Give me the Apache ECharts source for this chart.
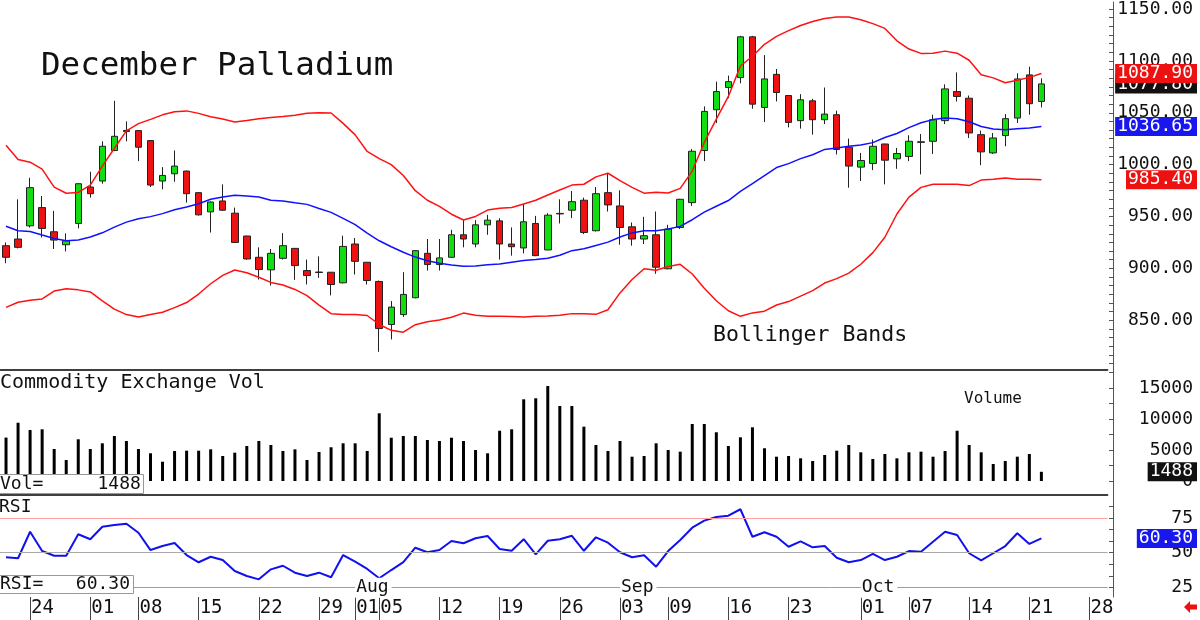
<!DOCTYPE html>
<html>
<head>
<meta charset="utf-8">
<title>December Palladium</title>
<script src="https://cdn.jsdelivr.net/npm/echarts@6/dist/echarts.min.js"></script>
<style>
  html, body { margin: 0; padding: 0; background: #fff; }
  #chart { width: 1200px; height: 620px; }
</style>
</head>
<body>
<div id="chart"></div>
<script>
// trading days (2019), the last five are empty room on the right
var dates = ['06-20','06-21','06-24','06-25','06-26','06-27','06-28',
    '07-01','07-02','07-03','07-05','07-08','07-09','07-10','07-11','07-12','07-15','07-16','07-17','07-18','07-19',
    '07-22','07-23','07-24','07-25','07-26','07-29','07-30','07-31',
    '08-01','08-02','08-05','08-06','08-07','08-08','08-09','08-12','08-13','08-14','08-15','08-16',
    '08-19','08-20','08-21','08-22','08-23','08-26','08-27','08-28','08-29','08-30',
    '09-03','09-04','09-05','09-06','09-09','09-10','09-11','09-12','09-13','09-16','09-17','09-18','09-19','09-20',
    '09-23','09-24','09-25','09-26','09-27','09-30',
    '10-01','10-02','10-03','10-04','10-07','10-08','10-09','10-10','10-11','10-14','10-15','10-16','10-17','10-18',
    '10-21','10-22','10-23','10-24','10-25','10-28','10-29']

var open = [921.9, 928.3, 941.0, 958.6, 935.3, 922.8, 943.3,
    978.4, 984.2, 1013.6, 1033.0, 1032.8, 1023.2, 984.2, 991.2, 993.8, 973.0, 954.5, 965.0, 953.2, 931.2,
    910.7, 898.6, 909.7, 919.3, 897.9, 896.0, 896.3, 886.1,
    923.5, 905.9, 887.4, 845.9, 855.5, 871.7, 914.5, 903.7, 910.7, 932.4, 923.5, 942.0,
    945.8, 923.5, 919.7, 943.3, 917.8, 952.5, 956.1, 965.7, 936.3, 973.0,
    960.2, 940.1, 928.3, 932.4, 899.6, 939.4, 963.4, 1013.6, 1052.9, 1074.3, 1083.9, 1123.2, 1055.1, 1087.0,
    1066.6, 1042.4, 1061.5, 1043.3, 1048.1, 1016.8,
    997.6, 1001.1, 1019.9, 1005.6, 1007.9, 1022.0, 1022.5, 1042.4, 1070.4, 1064.0, 1028.9, 1011.3, 1028.0, 1044.9,
    1086.5, 1060.9]
var close = [910.7, 920.3, 977.8, 938.5, 927.3, 926.7, 981.6,
    972.0, 1017.7, 1027.3, 1032.0, 1016.8, 980.3, 989.6, 998.6, 972.0, 951.6, 964.0, 956.1, 925.0, 909.1,
    898.9, 914.5, 921.9, 902.7, 893.1, 896.5, 884.5, 921.2,
    906.8, 888.3, 842.0, 862.7, 874.9, 917.1, 903.7, 910.1, 932.4, 928.3, 942.0, 946.5,
    923.5, 920.9, 944.9, 912.3, 951.3, 953.0, 964.3, 934.6, 972.0, 961.2,
    939.4, 928.3, 931.5, 901.1, 937.9, 966.6, 1012.9, 1051.3, 1070.4, 1080.0, 1123.2, 1058.3, 1082.6, 1069.5,
    1040.7, 1062.5, 1043.3, 1048.7, 1014.6, 998.6,
    1004.0, 1017.7, 1004.3, 1010.7, 1022.5, 1021.5, 1043.3, 1073.0, 1065.7, 1030.5, 1012.3, 1025.7, 1044.3, 1082.6,
    1058.7, 1077.8]
var low = [905.0, 919.3, 939.4, 929.8, 918.7, 916.4, 938.5,
    968.2, 981.6, 1013.0, 1022.5, 1003.4, 978.4, 976.2, 983.5, 963.4, 951.0, 934.6, 955.4, 924.5, 908.2,
    889.3, 883.5, 908.5, 889.0, 884.5, 890.9, 874.0, 885.5,
    894.1, 884.5, 819.6, 831.5, 853.2, 871.2, 897.9, 897.9, 910.2, 920.3, 920.3, 932.4,
    908.5, 912.3, 914.5, 911.8, 917.5, 943.3, 948.4, 933.1, 935.6, 954.8,
    922.8, 921.9, 923.5, 894.8, 899.1, 937.9, 960.2, 1003.4, 1040.1, 1064.0, 1078.4, 1053.9, 1041.0, 1060.9,
    1035.9, 1034.7, 1028.9, 1039.1, 1009.8, 977.8,
    984.2, 994.7, 981.0, 996.0, 1003.4, 990.6, 1010.3, 1039.1, 1060.9, 1025.7, 999.5, 1010.3, 1017.7, 1040.1,
    1048.1, 1055.1]
var high = [925.0, 966.6, 987.3, 969.8, 955.4, 933.7, 982.0,
    993.1, 1022.5, 1061.5, 1041.7, 1033.3, 1023.5, 997.6, 1013.6, 994.2, 973.5, 964.5, 981.0, 958.6, 931.5,
    920.3, 918.7, 934.0, 919.5, 908.5, 911.6, 896.5, 931.5,
    929.3, 906.2, 888.3, 868.5, 896.3, 917.5, 928.3, 928.3, 937.2, 946.5, 946.5, 951.6,
    948.4, 939.5, 962.4, 950.6, 953.2, 966.6, 974.6, 968.2, 978.4, 992.1,
    975.3, 944.2, 949.7, 954.8, 942.0, 967.0, 1015.1, 1056.1, 1080.0, 1085.8, 1124.1, 1124.1, 1105.6, 1092.2,
    1067.0, 1067.9, 1063.4, 1074.3, 1052.0, 1025.1,
    1011.3, 1024.2, 1020.2, 1016.1, 1028.3, 1029.5, 1048.1, 1077.4, 1088.9, 1066.6, 1032.8, 1030.5, 1048.7, 1088.0,
    1094.4, 1083.2]

var upperBand = [1018.7, 1005.0, 1002.4, 995.7, 978.4, 972.4, 973.2, 980.3, 998.6, 1015.8,
    1032.6, 1039.5, 1043.6, 1048.0, 1051.0, 1051.8, 1049.4, 1046.2, 1043.9, 1041.1,
    1042.6, 1044.3, 1045.5, 1046.4, 1047.7, 1049.6, 1050.0, 1049.8, 1039.8, 1028.7,
    1012.7, 1005.8, 1000.0, 989.5, 974.9, 965.7, 959.8, 952.2, 946.6, 950.1,
    956.2, 958.0, 958.7, 962.1, 965.7, 970.7, 975.6, 980.3, 981.1, 988.2,
    991.7, 984.5, 978.1, 972.5, 973.5, 972.7, 977.1, 993.8, 1021.4, 1043.9,
    1065.7, 1095.1, 1104.5, 1116.0, 1123.6, 1129.1, 1134.1, 1138.0, 1140.9, 1142.3,
    1142.3, 1139.6, 1135.9, 1131.3, 1119.3, 1111.4, 1107.2, 1107.3, 1109.4, 1107.4,
    1100.6, 1086.7, 1083.6, 1078.9, 1081.3, 1084.1, 1087.90]
var midBand = [940.6, 936.3, 935.5, 932.1, 928.8, 926.7, 927.4, 930.3, 934.3, 939.8,
    944.6, 947.8, 949.9, 952.8, 956.6, 959.2, 962.3, 966.7, 968.9, 970.4,
    969.7, 968.8, 965.7, 965.0, 963.2, 961.7, 957.8, 954.0, 948.2, 942.2,
    933.9, 926.6, 920.9, 915.6, 910.9, 907.4, 904.9, 903.3, 902.0, 902.4,
    903.5, 904.3, 906.0, 907.5, 908.5, 909.8, 912.6, 917.1, 918.9, 922.1,
    925.3, 930.2, 934.2, 936.3, 936.3, 938.0, 940.5, 946.9, 954.3, 959.9,
    965.4, 974.3, 981.6, 989.5, 997.2, 1001.0, 1005.8, 1009.5, 1014.7, 1016.1,
    1017.7, 1018.9, 1021.2, 1026.1, 1030.0, 1035.7, 1040.4, 1043.4, 1044.9, 1044.2,
    1041.4, 1036.8, 1034.3, 1033.7, 1034.7, 1035.4, 1036.65]
var lowerBand = [862.4, 867.4, 869.2, 870.6, 878.2, 880.4, 879.3, 877.3, 868.7, 860.8,
    855.5, 853.2, 855.6, 857.8, 862.2, 867.1, 875.3, 885.2, 893.3, 898.5,
    895.8, 891.4, 886.5, 884.0, 879.7, 873.7, 864.6, 856.3, 855.5, 855.5,
    854.6, 845.9, 840.3, 838.5, 845.7, 848.5, 850.2, 852.9, 856.9, 854.8,
    853.8, 853.8, 853.7, 853.2, 853.8, 854.2, 854.8, 856.4, 856.4, 855.7,
    860.1, 876.4, 889.3, 899.6, 898.2, 901.8, 903.9, 894.6, 880.8, 868.8,
    859.2, 853.8, 857.1, 858.8, 864.7, 868.0, 873.3, 878.6, 885.9, 890.1,
    895.4, 904.0, 915.2, 930.0, 952.4, 968.7, 978.1, 981.0, 981.0, 981.0,
    979.8, 985.1, 985.8, 987.1, 985.8, 985.8, 985.40]

var volume = [7000, 9400, 8230, 8340, 5160, 3390, 6730,
    5160, 6080, 7260, 6450, 5160, 4470, 3110, 4840, 4890, 4890, 5110, 4030, 4570, 5650,
    6450, 5810, 4840, 5110, 3390, 4680, 5440, 6080,
    6080, 4840, 10920, 6980, 7260, 7260, 6610, 6450, 6980, 6450, 5000, 4470,
    8110, 8340, 13180, 13340, 15320, 12100, 12100, 8760, 5810, 4840,
    6450, 3920, 4030, 6080, 5000, 4730, 9190, 9190, 7860, 5650, 7050, 8660, 5280, 3920,
    4030, 3660, 3230, 4190, 4890, 5810,
    4630, 3550, 4360, 3660, 4630, 4730, 3920, 4840, 8110, 5810, 4630, 2740, 3230, 3920,
    4360, 1488]

var rsi = [46.7, 46.0, 65.1, 51.2, 47.8, 47.8, 63.3,
    59.7, 68.7, 70.0, 70.9, 64.4, 51.9, 54.8, 57.0, 48.3, 43.1, 47.1, 44.7, 36.8, 33.2,
    30.8, 38.0, 40.6, 35.6, 33.2, 35.6, 32.3, 48.3,
    43.5, 38.3, 31.6, 37.5, 43.2, 53.6, 50.3, 51.9, 58.4, 56.8, 60.4, 62.0,
    52.7, 51.4, 59.7, 48.8, 58.6, 59.7, 62.2, 51.4, 61.1, 57.2,
    50.3, 46.7, 48.1, 39.9, 51.2, 59.2, 68.0, 73.1, 75.7, 76.7, 81.3, 61.5, 64.7, 61.5,
    54.3, 58.2, 53.9, 54.8, 46.4, 43.1,
    44.7, 49.1, 44.7, 47.1, 51.2, 50.7, 57.9, 65.1, 62.8, 49.6, 44.5, 49.6, 54.8, 64.0,
    56.3, 60.30]

var dayTicks = ['06-24','07-01','07-08','07-15','07-22','07-29','08-01','08-05','08-12','08-19','08-26',
    '09-03','09-09','09-16','09-23','10-01','10-07','10-14','10-21','10-28']
var monthStarts = ['08-01', '09-03', '10-01']
var monthNames = ['Aug', 'Sep', 'Oct']

var priceLabels = [850, 900, 950, 1000, 1050, 1100, 1150]
var volLabels = [0, 5000, 10000, 15000]
var rsiLabels = [25, 50, 75]
var rsiLevels = [75, 50, 25]

var priceTicks = [], volTicks = [], rsiTicks = []
for (var t = 1150; t > 802.1; t -= 50 / 6) priceTicks.push(t)
for (t = 0; t <= 17500; t += 2500) volTicks.push(t)
for (t = 25; t < 91; t += 25 / 3) rsiTicks.push(t)

var last = open.length - 1
var candles = open.map(function (o, i) { return [o, close[i], low[i], high[i]] })

var mono = 'DejaVu Sans Mono'
var PRICE_MIN = 802.07, PRICE_MAX = 1156.71
var VOL_MIN = -2258, VOL_MAX = 17904
var RSI_MIN = 18.08, RSI_MAX = 91.57

function gridAxisX(gridIndex, lineShow) {
    return {
        type: 'category', gridIndex: gridIndex, data: dates, boundaryGap: true,
        axisLine: { show: lineShow, onZero: false, lineStyle: { color: '#000', width: 1.5 } },
        axisTick: { show: false }, axisLabel: { show: false }
    }
}

function scaleAxis(gridIndex, min, max, labels, ticks, fmt) {
    return {
        type: 'value', gridIndex: gridIndex, position: 'right', offset: 5.4,
        min: min, max: max, splitLine: { show: false },
        axisLine: { show: true, lineStyle: { color: '#555', width: 1 } },
        axisTick: { show: true, inside: true, length: 4, customValues: ticks, lineStyle: { color: '#555' } },
        axisLabel: {
            customValues: labels, formatter: fmt, align: 'right', margin: 80,
            color: '#111', fontFamily: mono, fontSize: 18
        }
    }
}

// coloured value boxes on the right scale
function boxAxis(gridIndex, min, max, value, bg, fmt) {
    return {
        type: 'value', gridIndex: gridIndex, position: 'right', offset: 5.4, z: 5,
        min: min, max: max, splitLine: { show: false },
        axisLine: { show: false }, axisTick: { show: false },
        axisLabel: {
            customValues: [value], formatter: fmt, align: 'right', margin: 84,
            color: '#fff', fontFamily: mono, fontSize: 18, lineHeight: 18,
            backgroundColor: bg, padding: [1, 4, 0, 2]
        }
    }
}

var fmt2 = function (v) { return Number(v).toFixed(2) }
var fmt0 = function (v) { return String(Math.round(v)) }

var myChart = echarts.init(document.getElementById('chart'))

var option = {
    animation: false,
    backgroundColor: '#fff',
    textStyle: { fontFamily: mono },
    title: [
        { text: 'December Palladium', left: 41, top: 50, padding: 0,
          textStyle: { fontFamily: mono, fontSize: 32.5, fontWeight: 'normal', color: '#111' } },
        { text: 'Bollinger Bands', left: 713, top: 324, padding: 0,
          textStyle: { fontFamily: mono, fontSize: 21.5, fontWeight: 'normal', color: '#111' } },
        { text: 'Commodity Exchange Vol', left: 0, top: 373, padding: 0,
          textStyle: { fontFamily: mono, fontSize: 20, fontWeight: 'normal', color: '#111' } },
        { text: 'Volume', left: 964, top: 391, padding: 0,
          textStyle: { fontFamily: mono, fontSize: 16, fontWeight: 'normal', color: '#111' } },
        { text: 'Vol=     ' + volume[last], left: -1, top: 474, padding: [1, 3, 0, 1],
          backgroundColor: '#fff', borderColor: '#999', borderWidth: 1,
          textStyle: { fontFamily: mono, fontSize: 18, lineHeight: 19, fontWeight: 'normal', color: '#111' } },
        { text: 'RSI', left: -1, top: 498, padding: 0,
          textStyle: { fontFamily: mono, fontSize: 18, fontWeight: 'normal', color: '#111' } },
        { text: 'RSI=   ' + rsi[last].toFixed(2), left: -1, top: 576, padding: [0, 4, 0, 1],
          backgroundColor: '#fff', borderColor: '#999', borderWidth: 1,
          textStyle: { fontFamily: mono, fontSize: 18, lineHeight: 17, fontWeight: 'normal', color: '#111' } }
    ],
    grid: [
        { left: -7.7, width: 1118.26, top: 0, height: 370 },
        { left: -7.7, width: 1118.26, top: 370, height: 125 },
        { left: -7.7, width: 1118.26, top: 495, height: 102 }
    ],
    xAxis: [
        gridAxisX(0, true),
        gridAxisX(1, true),
        {
            type: 'category', gridIndex: 2, data: dates, boundaryGap: true,
            axisLine: { show: false, onZero: false },
            axisTick: {
                show: true, alignWithLabel: true, length: 23,
                interval: function (idx, val) { return dayTicks.indexOf(val) >= 0 },
                lineStyle: { color: '#444', width: 1 }
            },
            axisLabel: {
                interval: function (idx, val) { return dayTicks.indexOf(val) >= 0 },
                formatter: function (val) { return val.slice(3) },
                align: 'left', margin: 2, padding: [0, 0, 0, 1],
                color: '#111', fontFamily: mono, fontSize: 19
            }
        },
        {
            type: 'category', gridIndex: 2, data: dates, boundaryGap: true,
            position: 'bottom', offset: -9.3, z: 10,
            axisLine: { show: false, onZero: false }, axisTick: { show: false },
            axisLabel: {
                interval: function (idx, val) { return monthStarts.indexOf(val) >= 0 },
                formatter: function (val) { return monthNames[monthStarts.indexOf(val)] },
                align: 'left', verticalAlign: 'middle', margin: 0, padding: [1, 3, 1, 1],
                backgroundColor: '#fff', color: '#111', fontFamily: mono, fontSize: 18
            }
        }
    ],
    yAxis: [
        scaleAxis(0, PRICE_MIN, PRICE_MAX, priceLabels, priceTicks, fmt2),
        scaleAxis(1, VOL_MIN, VOL_MAX, volLabels, volTicks, fmt0),
        scaleAxis(2, RSI_MIN, RSI_MAX, rsiLabels, rsiTicks, fmt0),
        boxAxis(0, PRICE_MIN, PRICE_MAX, close[last], '#111', fmt2),
        boxAxis(0, PRICE_MIN, PRICE_MAX, upperBand[last], '#ee1111', fmt2),
        boxAxis(0, PRICE_MIN, PRICE_MAX, midBand[last], '#1818ee', fmt2),
        boxAxis(0, PRICE_MIN, PRICE_MAX, lowerBand[last], '#ee1111', fmt2),
        boxAxis(1, VOL_MIN, VOL_MAX, volume[last], '#111', fmt0),
        boxAxis(2, RSI_MIN, RSI_MAX, rsi[last], '#1818ee', fmt2)
    ],
    series: [
        {
            type: 'candlestick', xAxisIndex: 0, yAxisIndex: 0, z: 2,
            data: candles, barWidth: 7,
            itemStyle: {
                color: '#11dd11', color0: '#ee1111',
                borderColor: '#222', borderColor0: '#222', borderWidth: 1
            }
        },
        {
            type: 'line', xAxisIndex: 0, yAxisIndex: 0, z: 3, data: upperBand,
            symbol: 'none', lineStyle: { color: '#ff1111', width: 1.5 }
        },
        {
            type: 'line', xAxisIndex: 0, yAxisIndex: 0, z: 3, data: midBand,
            symbol: 'none', lineStyle: { color: '#1111ff', width: 1.5 }
        },
        {
            type: 'line', xAxisIndex: 0, yAxisIndex: 0, z: 3, data: lowerBand,
            symbol: 'none', lineStyle: { color: '#ff1111', width: 1.5 }
        },
        {
            type: 'bar', xAxisIndex: 1, yAxisIndex: 1, data: volume,
            barWidth: 3, itemStyle: { color: '#000' }
        },
        {
            type: 'line', xAxisIndex: 2, yAxisIndex: 2, z: 3, data: rsi,
            symbol: 'none', lineStyle: { color: '#1111ee', width: 2 },
            markLine: {
                silent: true, symbol: ['none', 'none'], label: { show: false },
                data: [
                    { yAxis: rsiLevels[0], lineStyle: { color: '#ffa0a0', width: 1, type: 'solid' } },
                    { yAxis: rsiLevels[1], lineStyle: { color: '#aaaaaa', width: 1, type: 'solid' } },
                    { yAxis: rsiLevels[2], lineStyle: { color: '#9090ff', width: 1, type: 'solid' } }
                ]
            }
        }
    ],
    graphic: [
        {
            type: 'polygon', z: 10,
            shape: { points: [[1184, 607], [1190, 601], [1190, 604.5], [1197, 604.5], [1197, 609.5], [1190, 609.5], [1190, 613]] },
            style: { fill: '#ee1111' }
        }
    ]
}

myChart.setOption(option)
</script>
</body>
</html>
